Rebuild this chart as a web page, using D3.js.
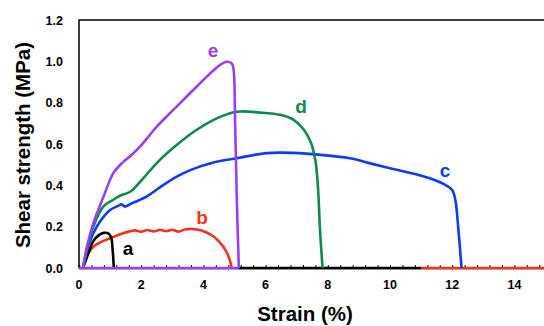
<!DOCTYPE html>
<html>
<head>
<meta charset="utf-8">
<script src="https://cdn.jsdelivr.net/npm/d3@7"></script>
<style>
  body { margin: 0; background: #fff; }
  text { font-family: "Liberation Sans", Arial, sans-serif; font-weight: bold; }
</style>
</head>
<body>
<svg id="chart"></svg>
<script>
const width = 544
const height = 326

// strain (%) vs shear strength (MPa)
const seriesA = [[0.13,0],[0.3,0.07],[0.46,0.13],[0.65,0.16],[0.8,0.17],[0.94,0.168],[1.03,0.15],[1.08,0.09],[1.12,0]]
const seriesB = [[0.13,0],[0.25,0.06],[0.46,0.103],[0.7,0.125],[1.0,0.144],[1.3,0.162],[1.6,0.176],[1.8,0.182],[2.0,0.175],[2.2,0.184],[2.4,0.177],[2.6,0.185],[2.8,0.178],[3.0,0.185],[3.2,0.176],[3.4,0.186],[3.8,0.186],[4.1,0.172],[4.35,0.15],[4.64,0.103],[4.8,0.06],[4.91,0]]
const seriesC = [[0.13,0],[0.25,0.08],[0.46,0.168],[0.7,0.23],[1.0,0.281],[1.25,0.3],[1.37,0.308],[1.48,0.297],[1.6,0.305],[1.75,0.316],[2.17,0.345],[2.6,0.39],[3.14,0.442],[3.6,0.475],[4.21,0.506],[5.07,0.531],[6.03,0.556],[6.9,0.557],[7.6,0.55],[8.71,0.531],[9.4,0.505],[10.1,0.479],[10.8,0.455],[11.39,0.428],[11.8,0.4],[12.0,0.377],[12.1,0.33],[12.2,0.184],[12.3,0]]
const seriesD = [[0.13,0],[0.25,0.09],[0.46,0.2],[0.78,0.297],[1.1,0.33],[1.35,0.352],[1.53,0.361],[1.69,0.374],[2.1,0.44],[2.6,0.523],[3.1,0.59],[3.68,0.658],[4.43,0.724],[5.07,0.756],[5.82,0.752],[6.5,0.74],[6.89,0.718],[7.2,0.675],[7.45,0.61],[7.6,0.52],[7.68,0.4],[7.75,0.184],[7.83,0]]
const seriesE = [[0.13,0],[0.25,0.1],[0.46,0.216],[0.8,0.35],[1.1,0.458],[1.4,0.51],[1.69,0.547],[1.96,0.587],[2.2,0.63],[2.5,0.684],[3.0,0.76],[3.51,0.837],[3.78,0.877],[4.1,0.925],[4.53,0.982],[4.75,0.998],[4.91,0.99],[4.97,0.96],[5.02,0.7],[5.08,0.3],[5.14,0]]

const names = ["b", "a", "c", "d", "e"]
const values = [seriesB, seriesA, seriesC, seriesD, seriesE]
const colors = ["#f5321e", "#000000", "#0c3cf5", "#10894e", "#9a3ef2"]
// label anchor points (data units)
const labelX = [3.96, 1.58, 11.77, 7.14, 4.31]
const labelY = [0.213, 0.063, 0.44, 0.75, 1.02]
// stretches of the zero line left after failure
const tailStart = [11, 5.14, null, null, 0]
const tailEnd = [15, 11, null, null, 5.14]

const xTicks = [0, 2, 4, 6, 8, 10, 12, 14]
const yTicks = [0, 0.2, 0.4, 0.6, 0.8, 1.0, 1.2]

const svg = d3.select("#chart").attr("width", width).attr("height", height)

const x = d3.scaleLinear().domain([0, 15]).range([79, 545.5])
const y = d3.scaleLinear().domain([0, 1.2]).range([268, 20])

// frame: left and top
svg.append("path")
    .attr("d", `M${x(0)},${y(0)}V${y(1.2)}H${width}`)
    .attr("fill", "none")
    .attr("stroke", "#000")
    .attr("stroke-width", 1.5)

// x axis with small inward ticks
const xAxis = d3.axisBottom(x)
    .tickValues(d3.range(0, 15.01, 0.4))
    .tickSize(-3)
    .tickFormat("")
const gx = svg.append("g").attr("transform", `translate(0,${y(0)})`).call(xAxis)
gx.select(".domain").attr("stroke-width", 1.5)
gx.selectAll(".tick line").attr("stroke-width", 1)

svg.append("g")
    .selectAll("text")
    .data(xTicks)
    .join("text")
    .attr("x", d => x(d))
    .attr("y", 289)
    .attr("text-anchor", "middle")
    .attr("font-size", 12.5)
    .text(d => d)

svg.append("g")
    .selectAll("text")
    .data(yTicks)
    .join("text")
    .attr("x", 63)
    .attr("y", d => y(d) + 4.5)
    .attr("text-anchor", "end")
    .attr("font-size", 12.5)
    .text(d => d.toFixed(1))

svg.append("text")
    .attr("x", 305)
    .attr("y", 321)
    .attr("text-anchor", "middle")
    .attr("font-size", 20.5)
    .text("Strain (%)")

svg.append("text")
    .attr("transform", "translate(30,145) rotate(-90)")
    .attr("text-anchor", "middle")
    .attr("font-size", 20.5)
    .text("Shear strength (MPa)")

const line = d3.line()
    .x(d => x(d[0]))
    .y(d => y(d[1]))
    .curve(d3.curveCatmullRom.alpha(0.5))

names.forEach((name, i) => {
    if (tailStart[i] !== null) {
        svg.append("path")
            .attr("d", d3.line()([[x(tailStart[i]), y(0)], [x(tailEnd[i]), y(0)]]))
            .attr("stroke", colors[i])
            .attr("stroke-width", 2.5)
    }
    svg.append("path")
        .datum(values[i])
        .attr("d", line)
        .attr("fill", "none")
        .attr("stroke", colors[i])
        .attr("stroke-width", 2.6)
        .attr("stroke-linejoin", "round")

    svg.append("text")
        .attr("x", x(labelX[i]))
        .attr("y", y(labelY[i]))
        .attr("text-anchor", "middle")
        .attr("font-size", 19)
        .attr("fill", colors[i])
        .text(name)
})
</script>
</body>
</html>
